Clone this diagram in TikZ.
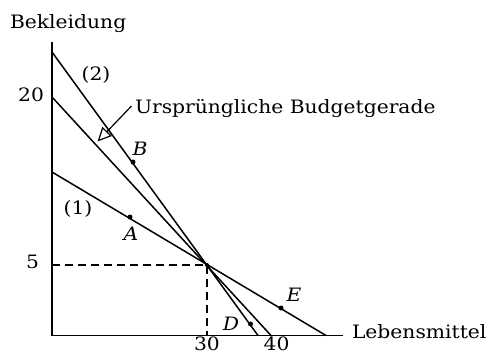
\documentclass[tikz,border=0pt]{standalone}
\usepackage{fontspec}
\setmainfont[FakeStretch=1.1]{DejaVu Serif}
\usetikzlibrary{arrows.meta}
\begin{document}
\begin{tikzpicture}[x=1bp,y=-1bp,
  every node/.style={inner sep=0pt,outer sep=0pt,font=\fontsize{18.5}{22}\selectfont},
  axis/.style={line width=1.5bp},
  budget/.style={line width=1.5bp},
  guide/.style={line width=1.3bp,dash pattern=on 8bp off 5bp},
  pt/.style={fill=black,circle,minimum size=5bp,inner sep=0pt}]
\useasboundingbox (0,0) rectangle (486,353);
% axes
\coordinate (top) at (52,42);
\coordinate (O) at (52,335.5);
\coordinate (right) at (343,335.5);
\draw[axis] (top) -- (O) -- (right);
% budget lines
\coordinate (o1) at (52,97);   \coordinate (o2) at (271,335.5);
\coordinate (a1) at (52,52);   \coordinate (a2) at (258,335.5);
\coordinate (b1) at (52,172);  \coordinate (b2) at (326,335.5);
\draw[budget] (o1) -- (o2);
\draw[budget] (a1) -- (a2);
\draw[budget] (b1) -- (b2);
% intersection & guides
\coordinate (X) at (207,265);
\coordinate (Xy) at (52,265);
\coordinate (Xx) at (207,335.5);
\draw[guide] (Xy) -- (X) -- (Xx);
% points
\node[pt] (pA) at (130,217) {};
\node[pt] (pB) at (133,162) {};
\node[pt] (pD) at (250.5,324) {};
\node[pt] (pE) at (281,308) {};
\node[pt,minimum size=4bp] (pX) at (X) {};
% labels
\node[anchor=base west] (ylab) at (10,28) {Bekleidung};
\node[anchor=base west] (xlab) at (352,338) {Lebensmittel};
\node[anchor=base east] (t20) at (44,101) {20};
\node[anchor=base east] (t5) at (39,268) {5};
\node[anchor=base] (t30) at (207,350.5) {30};
\node[anchor=base] (t40) at (276.5,350.5) {40};
\node[anchor=base] (l2) at (96,80) {(2)};
\node[anchor=base] (l1) at (78,214) {(1)};
\node[anchor=base] (lA) at (131,240) {\itshape A};
\node[anchor=base] (lB) at (140,155) {\itshape B};
\node[anchor=base] (lD) at (231,330) {\itshape D};
\node[anchor=base] (lE) at (294,301) {\itshape E};
\node[anchor=base west] (orig) at (135,113) {Ursprüngliche Budgetgerade};
\coordinate (arrStart) at (131.5,106);
\coordinate (arrTip) at (97.5,141.5);
\draw[line width=1.2bp,-{Triangle[open,length=14bp,width=13bp,line width=1.2bp]}] (arrStart) -- (arrTip);
\end{tikzpicture}
\end{document}
